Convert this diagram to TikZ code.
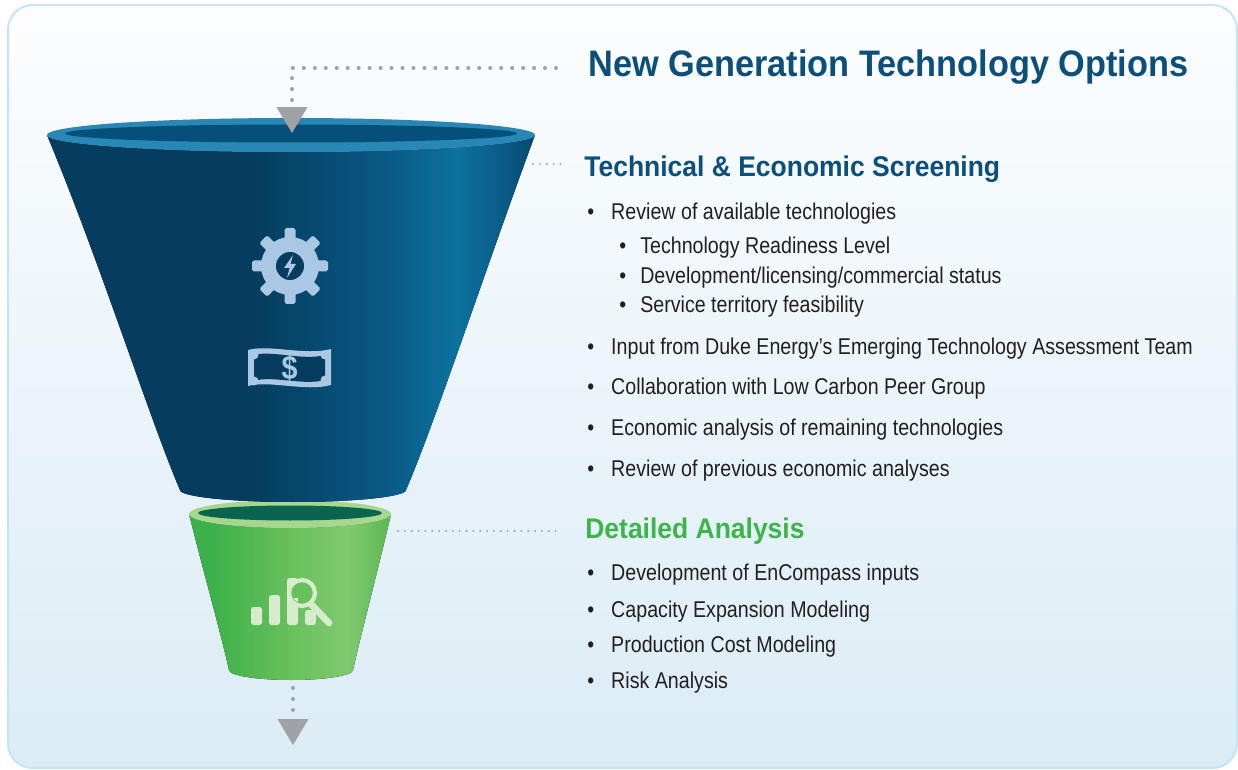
\documentclass[tikz,border=0pt]{standalone}
\usepackage{fontspec}
\setmainfont[FakeStretch=0.86]{Liberation Sans}
\newfontfamily\headfont[FakeStretch=0.93]{Liberation Sans}
\usetikzlibrary{arrows.meta,positioning,calc}
\definecolor{dukeBlue}{RGB}{12,79,122}
\definecolor{dukeGreen}{RGB}{61,181,74}
\definecolor{bodyText}{RGB}{35,31,32}
\definecolor{dotGray}{RGB}{160,162,165}
\definecolor{frameLine}{RGB}{198,229,244}
\definecolor{bgTop}{RGB}{252,253,254}
\definecolor{bgBottom}{RGB}{219,236,245}
% blue funnel
\definecolor{blueDark}{RGB}{6,60,95}
\definecolor{blueMid}{RGB}{9,90,133}
\definecolor{blueLight}{RGB}{13,114,158}
\definecolor{blueEdge}{RGB}{7,72,112}
\definecolor{blueRim}{RGB}{40,135,180}
\definecolor{blueInner}{RGB}{5,80,122}
\definecolor{iconBlue}{RGB}{170,200,228}
% green funnel
\definecolor{greenDark}{RGB}{60,176,74}
\definecolor{greenMid}{RGB}{104,192,92}
\definecolor{greenLight}{RGB}{128,201,112}
\definecolor{greenEdge}{RGB}{92,184,84}
\definecolor{greenRim}{RGB}{166,215,142}
\definecolor{greenInner}{RGB}{10,100,78}
\definecolor{iconGreen}{RGB}{215,236,205}
% path bbox maps to 25bp..75bp
\pgfdeclarehorizontalshading{blueBody}{100bp}{color(0bp)=(blueDark); color(46bp)=(blueDark); color(60bp)=(blueMid); color(67bp)=(blueLight); color(72bp)=(blueMid); color(75bp)=(blueEdge); color(100bp)=(blueEdge)}
\pgfdeclarehorizontalshading{greenBody}{100bp}{color(0bp)=(greenDark); color(30bp)=(greenDark); color(50bp)=(greenMid); color(64bp)=(greenLight); color(75bp)=(greenEdge); color(100bp)=(greenEdge)}
\newcommand\bul[1]{\makebox[13.6pt][l]{\textbullet}#1}
\newcommand\subbul[1]{\makebox[11.9pt][l]{\textbullet}#1}

\begin{document}
\begin{tikzpicture}[x=0.02cm,y=-0.02cm,
    headline/.style={anchor=base west,inner sep=0pt,font=\headfont\fontsize{21}{25}\selectfont\bfseries,text=dukeBlue},
    stagehead/.style={anchor=base west,inner sep=0pt,font=\headfont\fontsize{16.2}{19}\selectfont\bfseries},
    point/.style={anchor=base west,inner sep=0pt,font=\fontsize{13}{15}\selectfont,text=bodyText},
    leader/.style={draw=dotGray,line width=2.3pt,line cap=round,dash pattern=on 0pt off 6.24pt},
    fineleader/.style={draw=dotGray,line width=1.2pt,line cap=round,dash pattern=on 0pt off 3.9pt},
    droptip/.style={-{Triangle[length=14.7pt,width=17.6pt,line width=0pt]}}
  ]
  \useasboundingbox (0,0) rectangle (1238,770);
  % panel
  \draw[frameLine,line width=1.2pt,rounded corners=14pt,top color=bgTop,bottom color=bgBottom]
    (8,5) rectangle (1237,768);

  % green funnel (behind the blue one)
  \fill[shading=greenBody] (189,514) .. controls (203,570) and (220,630) .. (229,670)
    arc[start angle=180,end angle=0,x radius=62,y radius=10]
    .. controls (362,630) and (378,570) .. (391,514)
    arc[start angle=0,end angle=180,x radius=101,y radius=14] -- cycle;
  \fill[greenRim] (290,514) ellipse[x radius=101,y radius=14];
  \fill[greenInner] (290,513) ellipse[x radius=92,y radius=7.5];

  % blue funnel
  \fill[shading=blueBody] (47,135) .. controls (100,262) and (150,420) .. (180,490)
    arc[start angle=180,end angle=0,x radius=113,y radius=12]
    .. controls (436,420) and (488,262) .. (535,135)
    arc[start angle=0,end angle=180,x radius=244,y radius=17] -- cycle;
  \fill[blueRim] (291,135) ellipse[x radius=244,y radius=17];
  \fill[blueInner] (291,133.5) ellipse[x radius=226,y radius=9];

  % gear with bolt
  \foreach \a in {0,45,...,315}
    \fill[iconBlue,rounded corners=1pt,rotate around={\a:(290,266)}] (284.5,228) rectangle (295.5,245);
  \fill[iconBlue] (290,266) circle[radius=29];
  \fill[blueDark] (290,266) circle[radius=14];
  \fill[iconBlue] (293,255) -- (284,268) -- (289.5,268) -- (287,278) -- (296,264) -- (290.5,264) -- cycle;

  % bank note
  \fill[iconBlue] (248,350) .. controls (270,344) and (305,356) .. (331,349)
    -- (331,385) .. controls (305,392) and (270,380) .. (248,386) -- cycle;
  \fill[blueDark] (254,355) .. controls (272,350) and (303,361) .. (325,355)
    -- (325,380) .. controls (303,386) and (272,375) .. (254,381) -- cycle;
  \foreach \cx/\cy in {254/355,325/355,254/381,325/380}
    \fill[iconBlue] (\cx,\cy) circle[radius=4.5];
  \node[inner sep=0pt,text=iconBlue,font=\fontsize{19}{19}\selectfont\bfseries] (dollar) at (289.5,368) {\$};

  % chart with magnifier
  \fill[iconGreen,rounded corners=1.5pt] (251,607) rectangle (262,625);
  \fill[iconGreen,rounded corners=1.5pt] (269,595) rectangle (280,625);
  \fill[iconGreen,rounded corners=1.5pt] (287,578) rectangle (298,625);
  \fill[iconGreen,rounded corners=1.5pt] (305,610) rectangle (316,625);
  \draw[iconGreen,line width=3.8pt,line cap=round] (311,604) -- (329,623);
  \fill[greenMid] (302,593) circle[radius=13];
  \begin{scope}
    \clip (302,593) circle[radius=10];
    \fill[iconGreen] (287,598) rectangle (298,625);
  \end{scope}
  \draw[iconGreen,line width=2.4pt] (302,593) circle[radius=13];

  % headings and points
  \node[headline] (title) at (588,77) {New Generation Technology Options};
  \node[stagehead,text=dukeBlue] (screenhead) at (584,177) {Technical \& Economic Screening};
  \node[point] (scr1) at (587,220) {\bul{Review of available technologies}};
  \node[point] (scr1a) at (619,254) {\subbul{Technology Readiness Level}};
  \node[point] (scr1b) at (619,284) {\subbul{Development/licensing/commercial status}};
  \node[point] (scr1c) at (619,313) {\subbul{Service territory feasibility}};
  \node[point] (scr2) at (587,355) {\bul{Input from Duke Energy’s Emerging Technology Assessment Team}};
  \node[point] (scr3) at (587,395) {\bul{Collaboration with Low Carbon Peer Group}};
  \node[point] (scr4) at (587,436) {\bul{Economic analysis of remaining technologies}};
  \node[point] (scr5) at (587,476) {\bul{Review of previous economic analyses}};
  \node[stagehead,text=dukeGreen] (detailhead) at (585,538) {Detailed Analysis};
  \node[point] (det1) at (587,580) {\bul{Development of EnCompass inputs}};
  \node[point] (det2) at (587,617) {\bul{Capacity Expansion Modeling}};
  \node[point] (det3) at (587,652) {\bul{Production Cost Modeling}};
  \node[point] (det4) at (587,688) {\bul{Risk Analysis}};

  % dotted leaders and drop arrows
  \coordinate (titlelead) at (556,68);
  \coordinate (mouth) at (292,133);
  \draw[leader,droptip] (titlelead) -| (mouth);
  \coordinate (screenfrom) at (533,164);
  \coordinate (screento) at (562,164);
  \draw[fineleader] (screenfrom) -- (screento);
  \coordinate (detailfrom) at (398,531);
  \coordinate (detailto) at (562,531);
  \draw[fineleader] (detailfrom) -- (detailto);
  \coordinate (spout) at (293,688);
  \coordinate (outlet) at (293,745);
  \draw[leader,droptip] (spout) -- (outlet);
\end{tikzpicture}
\end{document}
